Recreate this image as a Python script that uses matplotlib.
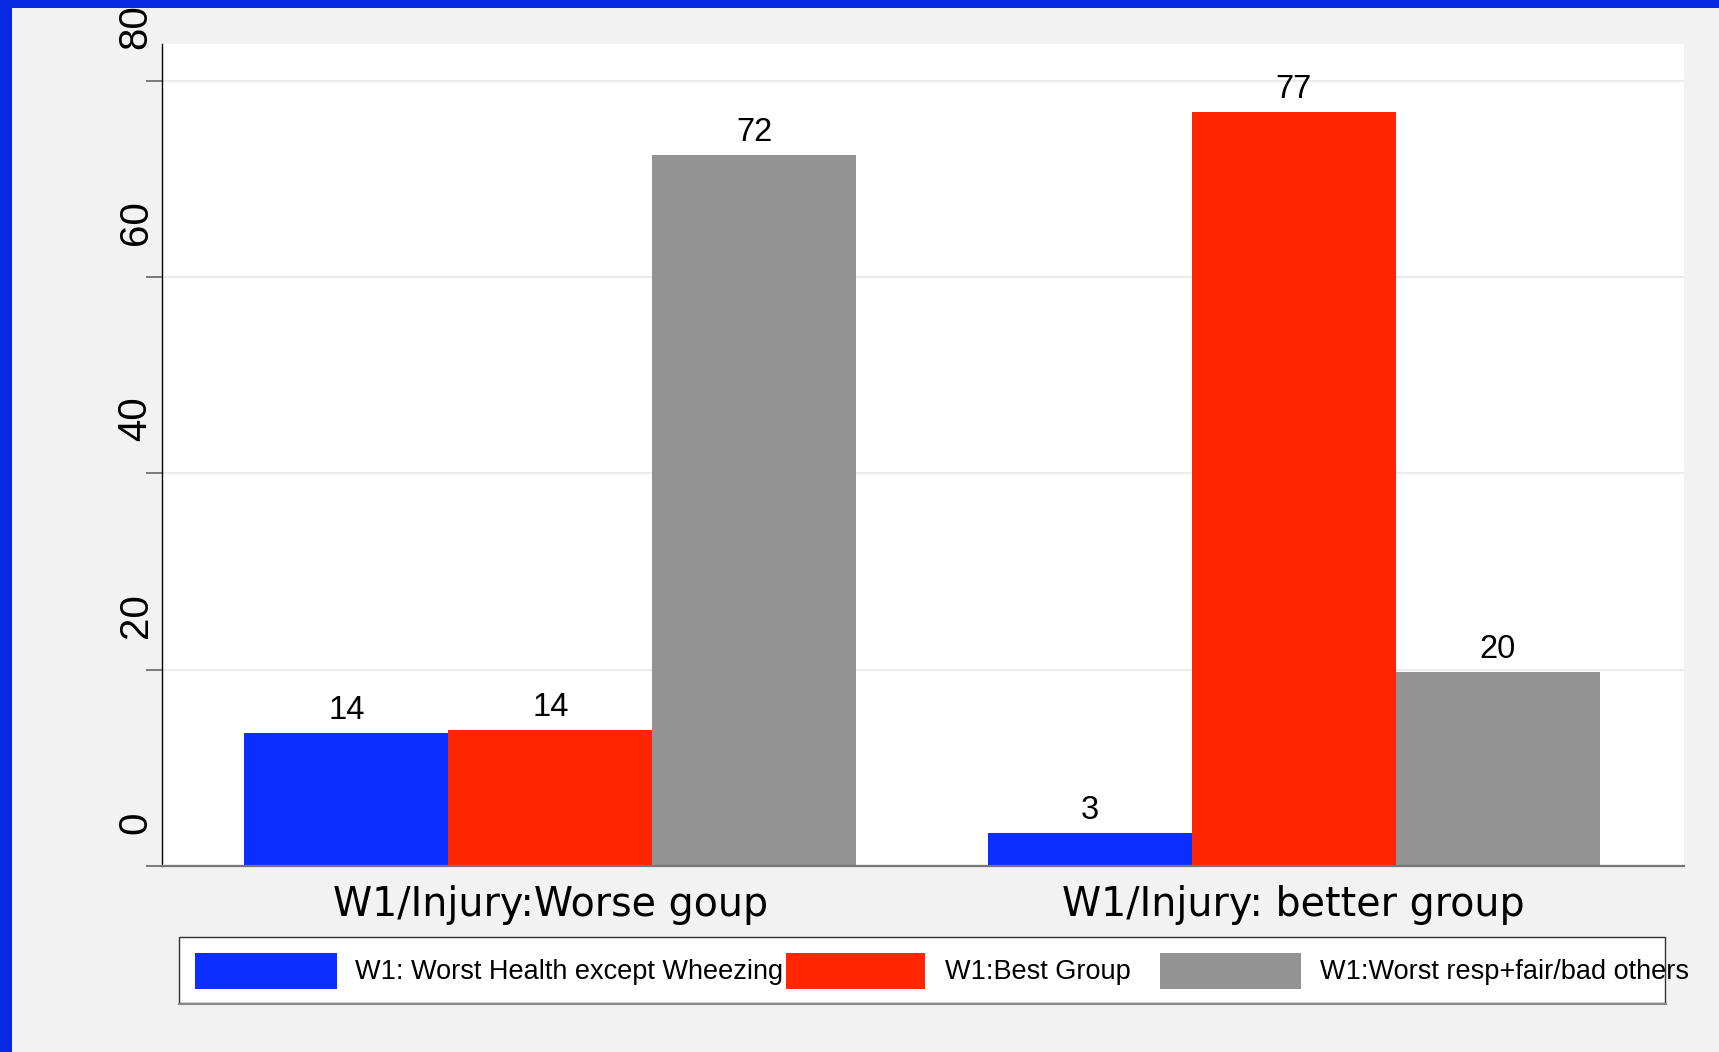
import matplotlib
matplotlib.use("Agg")
import matplotlib.pyplot as plt
import matplotlib.transforms as mtransforms
from matplotlib.patches import Rectangle
import numpy as np

groups = ["W1/Injury:Worse goup", "W1/Injury: better group"]
series = ["W1: Worst Health except Wheezing", "W1:Best Group", "W1:Worst resp+fair/bad others"]
values = {
    "W1: Worst Health except Wheezing": [13.6, 3.4],
    "W1:Best Group": [13.9, 76.8],
    "W1:Worst resp+fair/bad others": [72.5, 19.8],
}
colors = ["#0b2eff", "#ff2600", "#939393"]
yticks = [0, 20, 40, 60, 80]

W, H = 1719, 1052
fig = plt.figure(figsize=(W / 100, H / 100), dpi=100, facecolor="#f2f2f2")

# blue frame along the left and top edges
fig.add_artist(Rectangle((0, 0), 12 / W, 1, transform=fig.transFigure,
                         facecolor="#0727e0", edgecolor="none"))
fig.add_artist(Rectangle((0, 1 - 8 / H), 1, 8 / H, transform=fig.transFigure,
                         facecolor="#0727e0", edgecolor="none"))

ax = fig.add_axes([162 / W, 186 / H, 1522 / W, 822 / H])
ax.set_facecolor("white")

x = np.arange(len(groups))
width = 0.2745
for i, name in enumerate(series):
    bars = ax.bar(x + (i - 1) * width, values[name], width, color=colors[i], zorder=2)
    ax.bar_label(bars, fmt="%.0f", padding=5, fontsize=23.5, family="Liberation Sans")

ax.set_xlim(-0.5224, 1.5252)
ax.set_ylim(0, 83.77)

ax.set_yticks(yticks)
ax.yaxis.grid(True, color="#ebebeb", linewidth=1.6)
ax.set_axisbelow(True)
ax.tick_params(axis="y", length=11.5, width=1.2, color="#666666", labelleft=False)
ax.set_xticks(x, groups)
ax.tick_params(axis="x", length=0, pad=14, labelsize=28.5)
for lbl in ax.get_xticklabels():
    lbl.set_family("DejaVu Sans")

for s in ["top", "right"]:
    ax.spines[s].set_visible(False)
ax.spines["left"].set_color("black")
ax.spines["left"].set_linewidth(1.0)
ax.spines["bottom"].set_color("#777777")
ax.spines["bottom"].set_linewidth(1.6)
ax.spines["bottom"].set_zorder(3)

# rotated y tick labels sitting above their ticks
ytrans = mtransforms.blended_transform_factory(ax.transAxes, ax.transData)
ytrans = mtransforms.offset_copy(ytrans, fig=fig, x=-26.5, y=32, units="dots")
for t in yticks:
    ax.text(0, t, str(t), transform=ytrans, rotation=90, ha="center", va="bottom",
            fontsize=29, family="Liberation Sans")

# legend row
fig.add_artist(Rectangle((179 / W, 1 - 1003 / H), (1665 - 179) / W, (1003 - 937) / H,
                         transform=fig.transFigure, facecolor="white",
                         edgecolor="#333333", linewidth=1.0))
fig.add_artist(plt.Line2D([179 / W, 1666 / W], [1 - 1004 / H, 1 - 1004 / H],
                          transform=fig.transFigure, color="#888888", linewidth=1.5))
patch_x = [195, 786, 1160]
patch_w = [142, 139, 141]
text_x = [355, 945, 1320]
for i, name in enumerate(series):
    fig.add_artist(Rectangle((patch_x[i] / W, 1 - 989 / H), patch_w[i] / W, 36 / H,
                             transform=fig.transFigure, facecolor=colors[i], edgecolor="none"))
    fig.text(text_x[i] / W, 1 - 972 / H, name, ha="left", va="center", fontsize=19.5,
             family="Liberation Sans")

fig.savefig("out.png", dpi=100, facecolor=fig.get_facecolor())
